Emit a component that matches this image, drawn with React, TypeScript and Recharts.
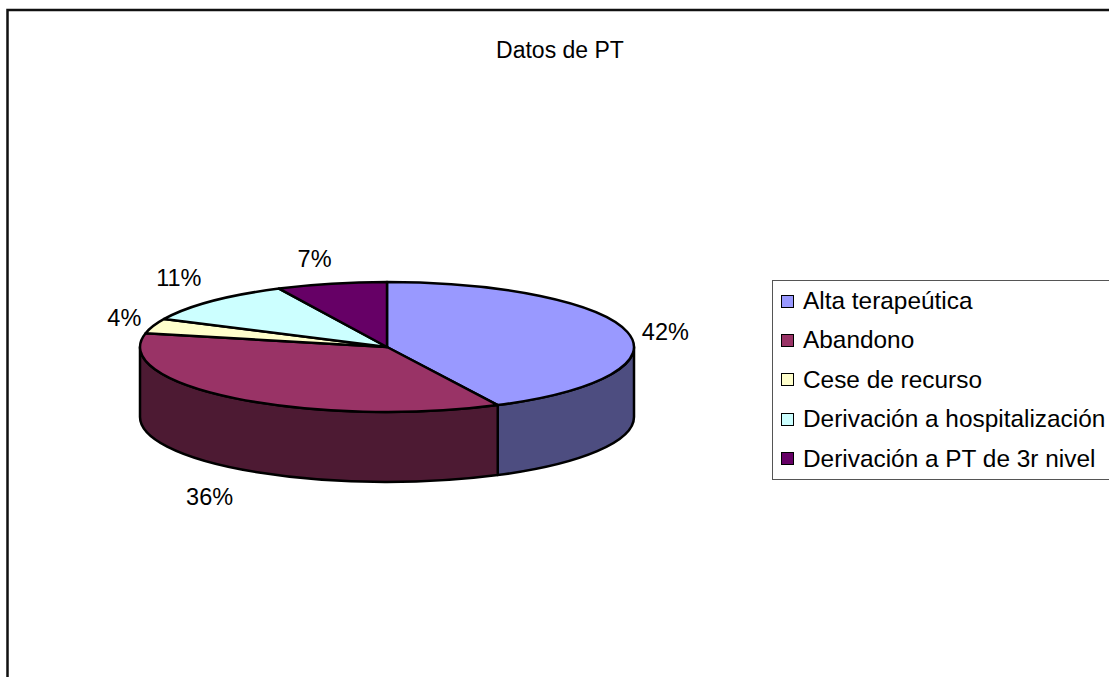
import React from "react";
import { PieChart, Pie, Legend } from "recharts";

const categories = ["Alta terapeútica", "Abandono", "Cese de recurso", "Derivación a hospitalización", "Derivación a PT de 3r nivel"];
const values = [42.6, 35.8, 3.7, 10.7, 7.2];
const percentLabels = ["42%", "36%", "4%", "11%", "7%"];
const topColors = ["#9999FF", "#993366", "#FFFFCC", "#CCFFFF", "#660066"];
const sideColors = ["#4D4D80", "#4D1A33", "#80806A", "#6A8080", "#330033"];
const title = "Datos de PT";

const data = categories.map((name, i) => ({ name, value: values[i], fill: topColors[i], side: sideColors[i], text: percentLabels[i] }));

const FONT = "'Liberation Sans', Arial, sans-serif";
const SQUASH = 65 / 247;
const DEPTH = 70;
const LABEL_OFFSETS = [[38, 0], [-26, 99], [-29, -8], [-33, -23], [-17, -25]];

const point = (cx: number, cy: number, r: number, deg: number) => {
  const a = (deg * Math.PI) / 180;
  return [cx + r * Math.cos(a), cy - r * SQUASH * Math.sin(a)];
};

function Slice3D(props: any) {
  const { cx, cy, outerRadius: r, startAngle, endAngle, fill, side } = props;
  const ry = r * SQUASH;
  const [sx, sy] = point(cx, cy, r, startAngle);
  const [ex, ey] = point(cx, cy, r, endAngle);
  const large = Math.abs(startAngle - endAngle) > 180 ? 1 : 0;
  const top = `M${cx},${cy} L${sx},${sy} A${r},${ry} 0 ${large} 1 ${ex},${ey} Z`;
  const a0 = Math.min(startAngle, 0);
  const a1 = Math.max(endAngle, -180);
  let wall = null;
  if (a0 > a1) {
    const [wx0, wy0] = point(cx, cy, r, a0);
    const [wx1, wy1] = point(cx, cy, r, a1);
    const d = `M${wx0},${wy0} A${r},${ry} 0 0 1 ${wx1},${wy1} L${wx1},${wy1 + DEPTH} A${r},${ry} 0 0 0 ${wx0},${wy0 + DEPTH} Z`;
    wall = <path d={d} fill={side} stroke="#000" strokeWidth={2.5} strokeLinejoin="round" />;
  }
  return (
    <g>
      {wall}
      <path d={top} fill={fill} stroke="#000" strokeWidth={2.5} strokeLinejoin="round" />
    </g>
  );
}

function SliceLabel(props: any) {
  const { cx, cy, outerRadius, midAngle, index, payload } = props;
  const [x, y] = point(cx, cy, outerRadius, midAngle);
  const [dx, dy] = LABEL_OFFSETS[index];
  return (
    <text x={x + dx} y={y + dy} textAnchor="middle" dominantBaseline="central" fontFamily={FONT} fontSize={23.5} fill="#000">
      {payload?.text ?? percentLabels[index]}
    </text>
  );
}

function LegendBox(props: any) {
  const items = props.payload || [];
  return (
    <div style={{ width: 345, height: 200, boxSizing: "border-box", border: "1.5px solid #555", borderRightWidth: 0, background: "#fff", position: "relative", fontFamily: FONT, fontSize: 24.4, color: "#000" }}>
      {items.map((it: any, i: number) => (
        <div key={it.value} style={{ position: "absolute", left: 8, top: 20 + i * 39.4 - 15, height: 30, display: "flex", alignItems: "center", whiteSpace: "nowrap" }}>
          <span style={{ display: "inline-block", width: 11, height: 11, border: "1.5px solid #000", background: it.color, marginRight: 9 }} />
          {it.value}
        </div>
      ))}
    </div>
  );
}

export default function App() {
  return (
    <div style={{ position: "absolute", left: 0, top: 0, width: 1109, height: 677, overflow: "hidden" }}>
      <PieChart width={1109} height={677} margin={{ top: 0, right: 0, bottom: 0, left: 0 }}>
        <rect x={7.5} y={10} width={1300} height={900} fill="none" stroke="#111" strokeWidth={2.5} />
        <text x={560} y={50} textAnchor="middle" dominantBaseline="central" fontFamily={FONT} fontSize={23} fill="#000">{title}</text>
        <Pie
          data={data}
          dataKey="value"
          nameKey="name"
          cx={387}
          cy={347}
          outerRadius={247}
          startAngle={90}
          endAngle={-270}
          isAnimationActive={false}
          shape={Slice3D}
          label={SliceLabel}
          labelLine={false}
          stroke="#000"
        />
        <Legend content={LegendBox} itemSorter={null} wrapperStyle={{ position: "absolute", left: 772, top: 280, width: 345, height: 200, bottom: "auto" }} />
      </PieChart>
    </div>
  );
}
